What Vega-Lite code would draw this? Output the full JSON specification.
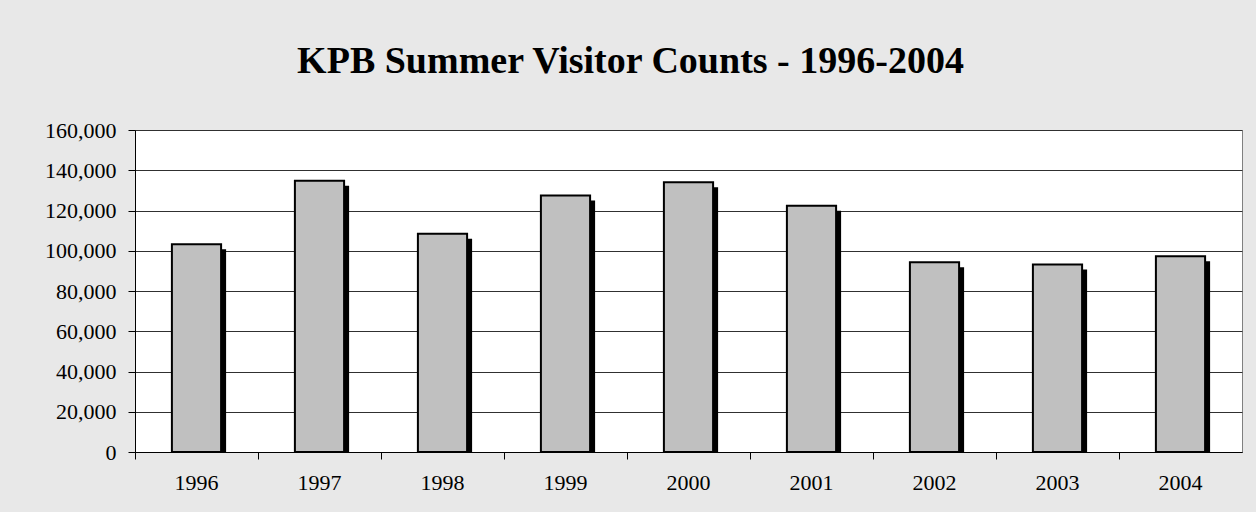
{
  "$schema": "https://vega.github.io/schema/vega-lite/v6.json",
  "autosize": {"type": "none"},
  "padding": {"left": 135, "top": 130, "right": 14, "bottom": 60},
  "width": 1107,
  "height": 322,
  "background": "#E8E8E8",
  "title": {
    "text": "KPB Summer Visitor Counts - 1996-2004",
    "font": "Liberation Serif",
    "fontSize": 38,
    "fontWeight": "bold",
    "color": "black",
    "anchor": "middle",
    "dx": -58,
    "offset": 8,
    "baseline": "alphabetic"
  },
  "data": {
    "values": [
      {"year": "1996", "visitors": 103200},
      {"year": "1997", "visitors": 134800},
      {"year": "1998", "visitors": 108500},
      {"year": "1999", "visitors": 127500},
      {"year": "2000", "visitors": 134000},
      {"year": "2001", "visitors": 122300},
      {"year": "2002", "visitors": 94300},
      {"year": "2003", "visitors": 93200},
      {"year": "2004", "visitors": 97300}
    ]
  },
  "encoding": {
    "x": {
      "field": "year",
      "type": "ordinal",
      "scale": {"type": "band", "paddingInner": 0, "paddingOuter": 0},
      "axis": {
        "title": null,
        "labelAngle": 0,
        "bandPosition": 0,
        "labelFont": "Liberation Serif",
        "labelFontSize": 22,
        "labelColor": "black",
        "labelPadding": 13,
        "tickSize": 7,
        "tickColor": "black",
        "domainColor": "black",
        "domainWidth": 1
      }
    },
    "y": {
      "field": "visitors",
      "type": "quantitative",
      "scale": {"domain": [0, 160000], "nice": false},
      "axis": {
        "title": null,
        "values": [0, 20000, 40000, 60000, 80000, 100000, 120000, 140000, 160000],
        "format": ",d",
        "labelFont": "Liberation Serif",
        "labelFontSize": 22,
        "labelColor": "black",
        "labelPadding": 12,
        "tickSize": 7,
        "tickColor": "black",
        "domainColor": "black",
        "grid": true,
        "gridColor": "#303030",
        "gridWidth": 1,
        "gridOpacity": 1
      }
    }
  },
  "layer": [
    {
      "mark": {"type": "bar", "color": "black", "xOffset": 5, "yOffset": 5, "clip": true, "width": {"band": 0.4}}
    },
    {
      "mark": {"type": "bar", "fill": "#C0C0C0", "stroke": "black", "strokeWidth": 2, "width": {"band": 0.4}}
    }
  ],
  "config": {
    "font": "Liberation Serif",
    "view": {"stroke": "#808080", "fill": "white"}
  }
}
